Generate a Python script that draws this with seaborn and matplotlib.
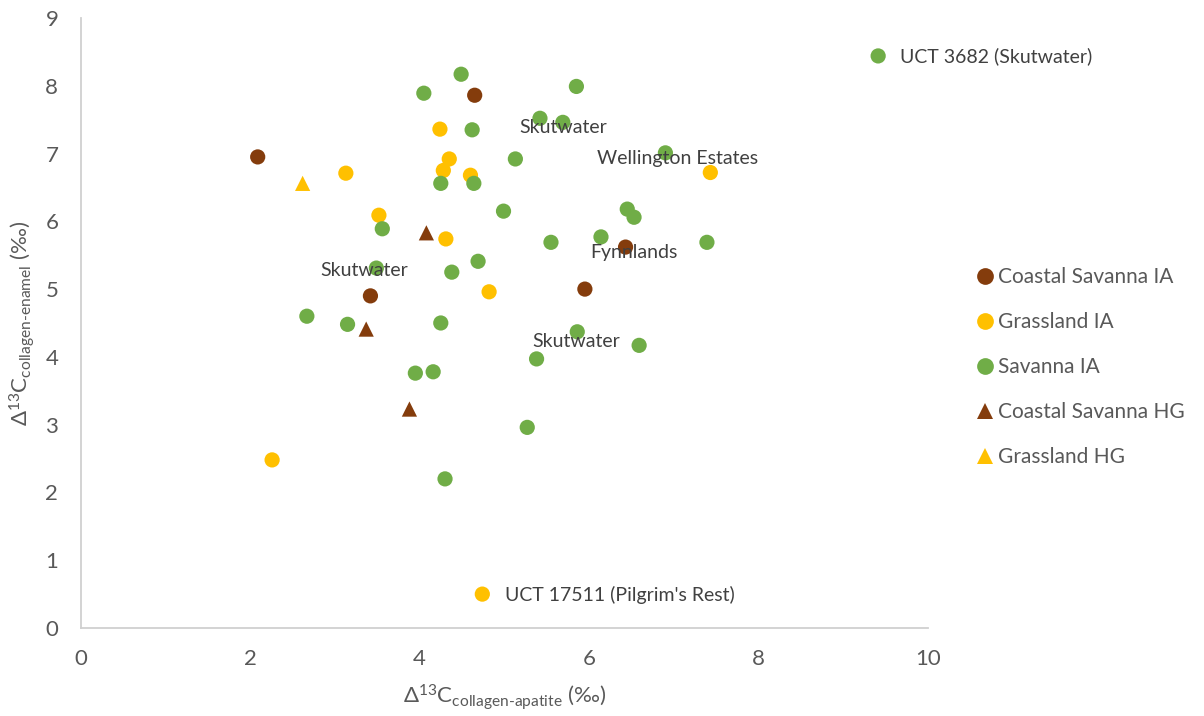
import matplotlib
matplotlib.use('Agg')
import matplotlib.pyplot as plt
import seaborn as sns
import pandas as pd

# Data
coastal_ia_x = [2.09, 4.65, 3.42, 5.95, 6.43]
coastal_ia_y = [6.95, 7.86, 4.90, 5.00, 5.62]

grass_ia_x = [4.24, 3.13, 4.35, 4.28, 4.60, 3.52, 4.31, 4.82, 7.43, 2.26, 4.74]
grass_ia_y = [7.36, 6.71, 6.92, 6.75, 6.68, 6.09, 5.74, 4.96, 6.72, 2.48, 0.50]

savanna_ia_x = [4.49, 4.05, 4.62, 4.25, 4.64, 3.56, 3.49, 4.38, 4.69, 4.99,
                5.85, 5.42, 5.69, 6.90, 5.13, 6.45, 6.53, 5.55, 6.14, 7.39,
                2.67, 3.15, 4.25, 3.95, 4.16, 4.30, 5.86, 6.59, 5.38, 5.27, 9.41]
savanna_ia_y = [8.17, 7.89, 7.35, 6.56, 6.56, 5.89, 5.31, 5.25, 5.41, 6.15,
                7.99, 7.52, 7.46, 7.01, 6.92, 6.18, 6.06, 5.69, 5.77, 5.69,
                4.60, 4.48, 4.50, 3.76, 3.78, 2.20, 4.37, 4.17, 3.97, 2.96, 8.44]

coastal_hg_x = [4.08, 3.37, 3.88]
coastal_hg_y = [5.83, 4.41, 3.23]

grass_hg_x = [2.62]
grass_hg_y = [6.56]

groups = ['Coastal Savanna IA', 'Grassland IA', 'Savanna IA',
          'Coastal Savanna HG', 'Grassland HG']

# point labels: (text, x, y of the text anchor)
labels = [
    ('UCT 3682 (Skutwater)', 9.67, 8.44),
    ('Skutwater', 5.18, 7.38),
    ('Wellington Estates', 6.09, 6.93),
    ('Skutwater', 2.83, 5.27),
    ('Fynnlands', 6.01, 5.54),
    ('Skutwater', 5.33, 4.22),
    ('UCT 17511 (Pilgrim\'s Rest)', 5.01, 0.48),
]

frames = []
for g, xs, ys in zip(groups,
                     [coastal_ia_x, grass_ia_x, savanna_ia_x, coastal_hg_x, grass_hg_x],
                     [coastal_ia_y, grass_ia_y, savanna_ia_y, coastal_hg_y, grass_hg_y]):
    frames.append(pd.DataFrame({'x': xs, 'y': ys, 'group': g}))
df = pd.concat(frames, ignore_index=True)

palette = {'Coastal Savanna IA': '#843C0C', 'Grassland IA': '#FFC000',
           'Savanna IA': '#70AD47', 'Coastal Savanna HG': '#843C0C',
           'Grassland HG': '#FFC000'}
markers = {'Coastal Savanna IA': 'o', 'Grassland IA': 'o', 'Savanna IA': 'o',
           'Coastal Savanna HG': '^', 'Grassland HG': '^'}

sns.set_style('white')
plt.rcParams['font.family'] = ['Lato', 'DejaVu Sans']
plt.rcParams['mathtext.fontset'] = 'custom'
plt.rcParams['mathtext.rm'] = 'Lato'
plt.rcParams['mathtext.it'] = 'Lato'

text_col = '#595959'

fig = plt.figure(figsize=(12.04, 7.16), dpi=100)
ax = fig.add_axes([0.0669, 0.1229, 0.704, 0.852])

sns.scatterplot(data=df, x='x', y='y', hue='group', style='group',
                hue_order=groups, style_order=groups, palette=palette,
                markers=markers, s=120, linewidth=0, ax=ax)

for txt, tx, ty in labels:
    ax.text(tx, ty, txt, fontsize=14, color='#404040', va='center', ha='left')

ax.set_xlim(0, 10)
ax.set_ylim(0, 9)
ax.set_xticks(range(0, 11, 2))
ax.set_yticks(range(0, 10))
ax.tick_params(axis='both', labelsize=16, colors=text_col, length=0)
ax.tick_params(axis='x', pad=15)
ax.tick_params(axis='y', pad=16)
for s in ['top', 'right']:
    ax.spines[s].set_visible(False)
for s in ['left', 'bottom']:
    ax.spines[s].set_color('#d0d0d0')
    ax.spines[s].set_linewidth(1.3)

ax.set_xlabel(r'$\Delta^{13}$C$_{\mathrm{collagen\text{-}apatite}}$ (‰)',
              fontsize=16, color=text_col, labelpad=10)
ax.set_ylabel(r'$\Delta^{13}$C$_{\mathrm{collagen\text{-}enamel}}$ (‰)',
              fontsize=16, color=text_col, labelpad=6)

ax.legend(loc='center left', bbox_to_anchor=(1.02, 0.428), frameon=False,
          fontsize=15, labelcolor=text_col, handletextpad=-0.35,
          labelspacing=1.2, markerscale=1.1, title=None)

fig.savefig('out.png', dpi=100)
